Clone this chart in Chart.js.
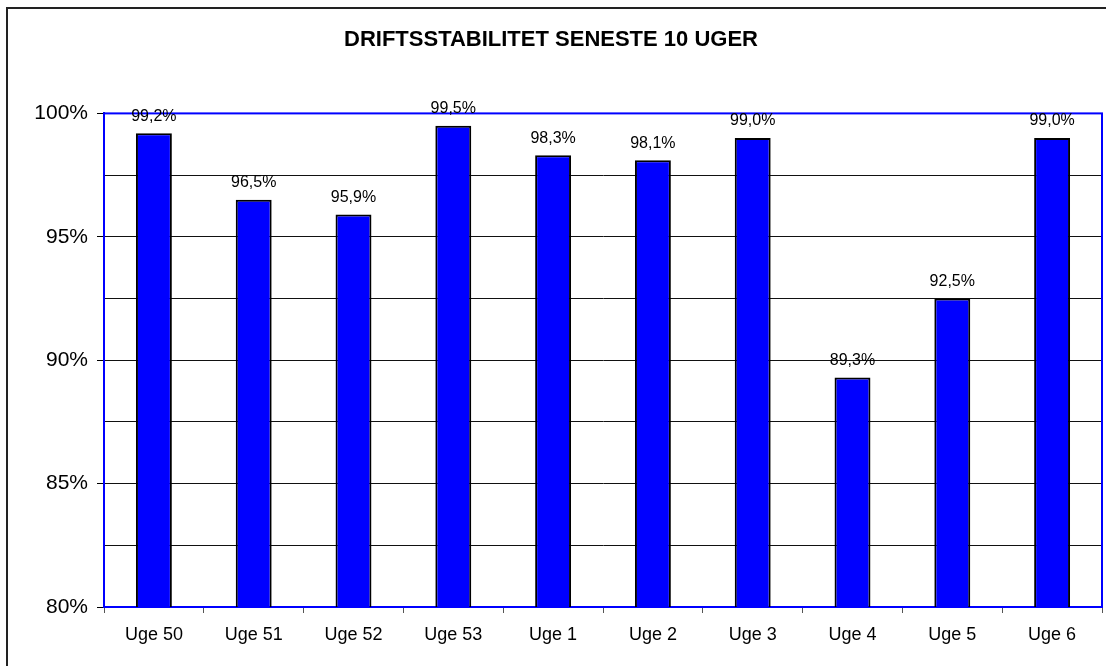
<!DOCTYPE html>
<html>
<head>
<meta charset="utf-8">
<script src="https://cdn.jsdelivr.net/npm/chart.js@4.4.1/dist/chart.umd.min.js"></script>
<style>
  html, body { margin: 0; padding: 0; background: #fff; }
  #wrap { width: 1106px; height: 666px; position: relative; }
</style>
</head>
<body>
<div id="wrap"><canvas id="c"></canvas></div>
<script>
/* ── Data ──────────────────────────────────────────────────────────── */
const WEEKS  = ['Uge 50', 'Uge 51', 'Uge 52', 'Uge 53', 'Uge 1', 'Uge 2', 'Uge 3', 'Uge 4', 'Uge 5', 'Uge 6'];
const STABIL = [99.2, 96.5, 95.9, 99.5, 98.3, 98.1, 99.0, 89.3, 92.5, 99.0];
const Y_MIN  = 80;
const Y_MAX  = 100;
const Y_STEP = 2.5;

const FONT = "'Liberation Sans', Arial, sans-serif";
const pct  = v => v.toFixed(1).replace('.', ',') + '%';

/* ── Outer frame + blue plot border ─────────────────────────────────── */
const frame = {
    id: 'frame',
    beforeDraw(chart) {
        const c = chart.ctx;
        c.save();
        c.strokeStyle = '#222';
        c.lineWidth = 2;
        c.beginPath();
        c.moveTo(7, chart.height);
        c.lineTo(7, 8);
        c.lineTo(chart.width, 8);
        c.stroke();
        c.restore();
    },
    beforeDatasetsDraw(chart) {
        const { ctx: c, chartArea: a } = chart;
        c.save();
        c.strokeStyle = '#0000ff';
        c.lineWidth = 2;
        c.strokeRect(a.left, a.top, a.right - a.left, a.bottom - a.top);
        c.restore();
    },
};

/* ── Value labels above bars ────────────────────────────────────────── */
const valueLabels = {
    id: 'valueLabels',
    afterDatasetsDraw(chart) {
        const c = chart.ctx;
        const meta = chart.getDatasetMeta(0);
        c.save();
        c.font = '16px ' + FONT;
        c.fillStyle = '#000';
        c.textAlign = 'center';
        c.textBaseline = 'middle';
        meta.data.forEach((bar, i) => {
            c.fillText(pct(STABIL[i]), bar.x, bar.y - 17);
        });
        c.restore();
    },
};

new Chart(document.getElementById('c'), {
    type: 'bar',
    data: {
        labels: WEEKS,
        datasets: [{
            data: STABIL,
            backgroundColor: '#0000ff',
            borderColor: '#000',
            borderWidth: 2,
            borderSkipped: false,
            barPercentage: 0.36,
            categoryPercentage: 1,
        }],
    },
    options: {
        responsive: true,
        maintainAspectRatio: false,
        animation: false,
        layout: { padding: { left: 0, right: 4, top: 0, bottom: 0 } },
        plugins: {
            legend: { display: false },
            tooltip: { enabled: false },
            title: {
                display: true,
                text: 'DRIFTSSTABILITET SENESTE 10 UGER',
                color: '#000',
                font: { family: FONT, size: 22, weight: 'bold' },
                padding: { top: 27, bottom: 60 },
            },
        },
        scales: {
            x: {
                grid: {
                    offset: true,
                    drawOnChartArea: false,
                    drawTicks: true,
                    tickLength: 6,
                    tickColor: '#555',
                },
                border: { color: '#0000ff', width: 2 },
                ticks: { color: '#000', font: { family: FONT, size: 18 }, padding: 11 },
                afterFit(s) { s.height = 59; },
            },
            y: {
                min: Y_MIN,
                max: Y_MAX,
                grid: {
                    color: '#111',
                    lineWidth: 1,
                    tickLength: 7,
                    tickColor: ctx => (ctx.tick && ctx.tick.value % 5 === 0) ? '#000' : 'rgba(0,0,0,0)',
                },
                border: { color: '#1a1aa8', width: 2 },
                ticks: {
                    stepSize: Y_STEP,
                    color: '#000',
                    padding: 9,
                    font: { family: FONT, size: 21 },
                    callback: v => v % 5 === 0 ? v + '%' : '',
                },
                afterFit(s) { s.width = 104; },
            },
        },
    },
    plugins: [frame, valueLabels],
});
</script>
</body>
</html>
